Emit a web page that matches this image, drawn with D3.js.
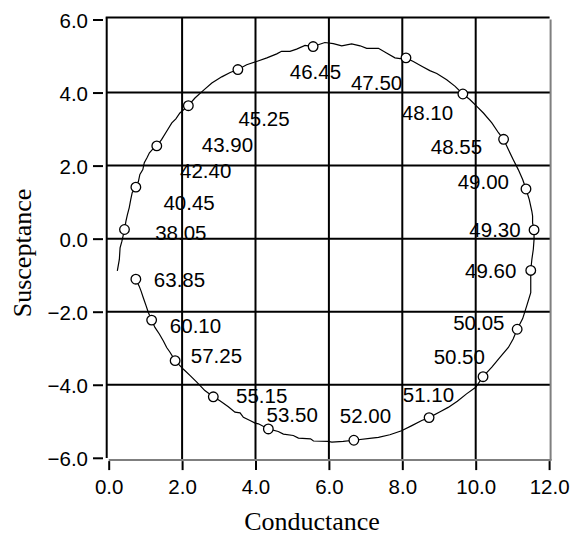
<!DOCTYPE html>
<html>
<head>
<meta charset="utf-8">
<script src="https://cdn.jsdelivr.net/npm/d3@7/dist/d3.min.js"></script>
<style>
  html, body { margin: 0; padding: 0; background: #fff; }
  svg { display: block; }
</style>
</head>
<body>
<svg id="chart" width="575" height="540"></svg>
<script>
// Admittance sweep: conductance (G) vs susceptance (B)
const sweepG = [0.235, 0.29, 0.31, 0.36, 0.43, 0.47, 0.51, 0.56, 0.60, 0.64, 0.74,
  0.81, 0.85, 0.93, 0.97, 1.04, 1.11, 1.20, 1.31, 1.44, 1.58, 1.72, 1.83, 1.94, 2.17,
  2.35, 2.58, 2.81, 3.08, 3.31, 3.52, 3.76, 4.03, 4.31, 4.58, 4.71, 4.94, 5.12, 5.35, 5.57,
  5.71, 5.89, 6.12, 6.35, 6.62, 6.85, 7.03, 7.35, 7.57, 7.80, 7.94, 8.10,
  8.30, 8.53, 8.75, 8.94, 9.21, 9.44, 9.65, 9.84, 10.03, 10.21, 10.44, 10.62, 10.76,
  10.89, 11.02, 11.16, 11.28, 11.37, 11.46, 11.53, 11.55, 11.55, 11.59,
  11.59, 11.57, 11.53, 11.50, 11.50, 11.50, 11.39, 11.28, 11.13,
  11.02, 10.89, 10.66, 10.44, 10.20, 10.00, 9.75, 9.50, 9.25, 9.03, 8.73,
  8.53, 8.26, 7.98, 7.66, 7.35, 7.17, 6.68, 6.39, 6.08, 5.98, 5.58, 5.50, 5.17, 5.03, 4.76, 4.62, 4.35,
  4.08, 3.99, 3.85, 3.67, 3.58, 3.44, 3.26, 3.03, 2.85, 2.62, 2.40, 2.22, 2.03, 1.81,
  1.67, 1.58, 1.49, 1.38, 1.26, 1.17, 1.08, 1.02, 0.94, 0.88, 0.83, 0.74];
const sweepB = [-0.885, -0.57, -0.25, -0.07, 0.25, 0.48, 0.66, 0.85, 1.07, 1.26, 1.41,
  1.57, 1.76, 1.89, 2.08, 2.21, 2.35, 2.45, 2.54, 2.71, 2.94, 3.17, 3.28, 3.44, 3.64,
  3.85, 4.06, 4.26, 4.43, 4.55, 4.63, 4.76, 4.85, 4.95, 5.06, 5.13, 5.13, 5.19, 5.29, 5.26,
  5.31, 5.37, 5.34, 5.28, 5.33, 5.28, 5.21, 5.21, 5.08, 4.95, 4.93, 4.95,
  4.85, 4.72, 4.60, 4.52, 4.35, 4.17, 3.96, 3.81, 3.62, 3.44, 3.17, 2.90, 2.72,
  2.44, 2.17, 1.89, 1.62, 1.36, 1.07, 0.75, 0.62, 0.43, 0.24,
  -0.02, -0.29, -0.57, -0.87, -1.11, -1.48, -1.84, -2.19, -2.48,
  -2.75, -2.98, -3.25, -3.52, -3.78, -4.07, -4.25, -4.45, -4.62, -4.74, -4.90,
  -4.98, -5.12, -5.26, -5.37, -5.44, -5.46, -5.52, -5.55, -5.57, -5.55, -5.54, -5.48, -5.46, -5.39, -5.35, -5.28, -5.21,
  -5.07, -5.05, -4.98, -4.89, -4.77, -4.75, -4.60, -4.44, -4.33, -4.16, -3.93, -3.75, -3.57, -3.34,
  -3.11, -2.98, -2.80, -2.61, -2.43, -2.23, -2.02, -1.84, -1.61, -1.43, -1.30, -1.11];

// Marked frequencies along the sweep
const markerFreq = [38.05, 40.45, 42.40, 43.90, 45.25, 46.45, 47.50, 48.10, 48.55, 49.00,
  49.30, 49.60, 50.05, 50.50, 51.10, 52.00, 53.50, 55.15, 57.25, 60.10, 63.85];
const markerG = [0.43, 0.74, 1.31, 2.17, 3.52, 5.57, 8.10, 9.65, 10.76, 11.37,
  11.59, 11.50, 11.13, 10.20, 8.73, 6.68, 4.35, 2.85, 1.81, 1.17, 0.74];
const markerB = [0.25, 1.41, 2.54, 3.64, 4.63, 5.26, 4.95, 3.96, 2.72, 1.36,
  0.24, -0.87, -2.48, -3.78, -4.90, -5.52, -5.21, -4.33, -3.34, -2.23, -1.11];

// Axis ticks
const xTicks = [0, 2, 4, 6, 8, 10, 12];
const yTicks = [-6, -4, -2, 0, 2, 4, 6];

// Label placement relative to each marker (pixels: left edge, baseline)
const labelOffsets = [[30.7, 10], [27.6, 23.2], [23.3, 32.5], [13.4, 46], [0.5, 56],
  [-23.3, 32.6], [-55, 31.7], [-61, 26.4], [-72.8, 14.5], [-68.3, 0.5],
  [-64.7, 6.8], [-65.7, 7.3], [-64, 0.7], [-49.4, -12.5], [-26.3, -15.2],
  [-14, -17.7], [-1.8, -6.5], [22.7, 5.8], [15.7, 2.8], [18.2, 12.5], [18, 7.5]];

const sans = "'Liberation Sans', Arial, Helvetica, sans-serif";
const serif = "'Liberation Serif', 'Times New Roman', Times, serif";

const svg = d3.select("#chart");

const x = d3.scaleLinear().domain([0, 12]).range([108.7, 549.1]);
const y = d3.scaleLinear().domain([-6, 6]).range([457.8, 19.5]);

const frameL = x(0) - 2, frameR = x(12) + 1.5;
const frameT = y(6) - 2, frameB = y(-6) + 2.3;

// Grid
const grid = svg.append("g");
grid.selectAll(".gx").data(xTicks.slice(1, -1)).join("line")
  .attr("x1", d => x(d)).attr("x2", d => x(d))
  .attr("y1", frameT).attr("y2", frameB)
  .attr("stroke", "#000").attr("stroke-width", 2);
grid.selectAll(".gy").data(yTicks.slice(1, -1)).join("line")
  .attr("x1", frameL).attr("x2", frameR)
  .attr("y1", d => y(d)).attr("y2", d => y(d))
  .attr("stroke", "#000").attr("stroke-width", 2);

// Frame: dark top/left, grey bottom/right
svg.append("line").attr("x1", frameR).attr("x2", frameR).attr("y1", frameT + 2).attr("y2", frameB)
  .attr("stroke", "#7f7f7f").attr("stroke-width", 2);
svg.append("line").attr("x1", x(0)).attr("x2", frameR + 1).attr("y1", frameB).attr("y2", frameB)
  .attr("stroke", "#7f7f7f").attr("stroke-width", 2);
svg.append("line").attr("x1", frameL - 1).attr("x2", frameR - 1).attr("y1", frameT).attr("y2", frameT)
  .attr("stroke", "#000").attr("stroke-width", 2);
svg.append("line").attr("x1", frameL).attr("x2", frameL).attr("y1", frameT).attr("y2", frameB - 2)
  .attr("stroke", "#000").attr("stroke-width", 2);

// Axes
const yAxis = d3.axisLeft(y).tickValues(yTicks).tickFormat(d3.format(".1f"))
  .tickSize(10).tickPadding(5);
const gy = svg.append("g").attr("transform", "translate(103,0)").call(yAxis);
gy.select(".domain").remove();
gy.selectAll(".tick line").attr("stroke", "#000").attr("stroke-width", 2);
gy.selectAll(".tick text").attr("font-family", sans).attr("font-size", 20.5)
  .attr("fill", "#000").attr("dy", "0.39em");

const xAxis = d3.axisBottom(x).tickValues(xTicks).tickFormat(d3.format(".1f"))
  .tickSize(9).tickPadding(9.4);
const gx = svg.append("g").attr("transform", `translate(0,${frameB + 1})`).call(xAxis);
gx.select(".domain").remove();
gx.selectAll(".tick line").attr("stroke", "#000").attr("stroke-width", 2);
gx.selectAll(".tick text").attr("font-family", sans).attr("font-size", 20.5).attr("fill", "#000");

// Axis titles
svg.append("text").attr("x", 312).attr("y", 530).attr("text-anchor", "middle")
  .attr("font-family", serif).attr("font-size", 26).attr("fill", "#000").text("Conductance");
svg.append("text").attr("transform", "translate(31,253) rotate(-90)").attr("text-anchor", "middle")
  .attr("font-family", serif).attr("font-size", 26).attr("fill", "#000").text("Susceptance");

// Sweep curve
const pts = sweepG.map((g, i) => [g, sweepB[i]]);
svg.append("path").datum(pts)
  .attr("fill", "none").attr("stroke", "#000").attr("stroke-width", 1.2)
  .attr("d", d3.line().x(d => x(d[0])).y(d => y(d[1])));

// Markers
const marks = markerFreq.map((f, i) => ({ f, g: markerG[i], b: markerB[i], off: labelOffsets[i] }));
svg.append("g").selectAll("circle").data(marks).join("circle")
  .attr("cx", d => x(d.g)).attr("cy", d => y(d.b)).attr("r", 4.8)
  .attr("fill", "#fff").attr("stroke", "#000").attr("stroke-width", 1.3);

// Frequency labels
svg.append("g").selectAll("text").data(marks).join("text")
  .attr("x", d => x(d.g) + d.off[0]).attr("y", d => y(d.b) + d.off[1])
  .attr("font-family", sans).attr("font-size", 20.5).attr("fill", "#000")
  .text(d => d.f.toFixed(2));
</script>
</body>
</html>
